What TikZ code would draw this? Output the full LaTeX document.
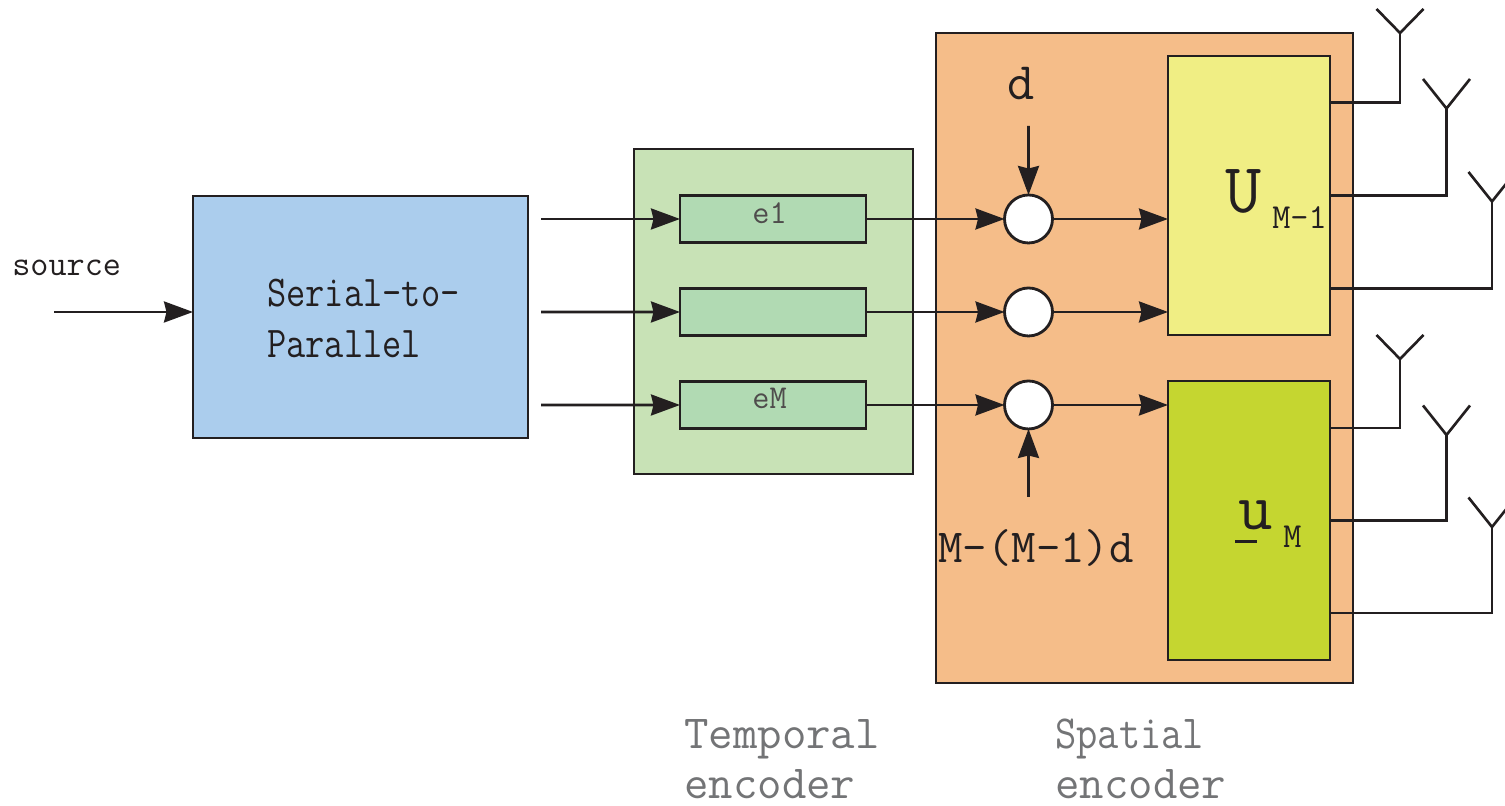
\documentclass[tikz,border=0pt]{standalone}
\usepackage{fontspec}
\usepackage{tikz}
\usetikzlibrary{arrows.meta}
\usetikzlibrary{positioning}
\definecolor{Ink}{RGB}{35,31,32}
\definecolor{Label}{RGB}{115,116,118}
\definecolor{Blue-1}{RGB}{171,205,237}
\definecolor{Green-1}{RGB}{200,226,182}
\definecolor{Green-2}{RGB}{177,218,179}
\definecolor{Orange-1}{RGB}{245,189,137}
\definecolor{Yellow-1}{RGB}{240,238,132}
\definecolor{Lime-1}{RGB}{197,214,48}
\newcommand{\fs}[1]{\ttfamily\fontsize{#1}{#1}\selectfont}
\newcommand{\shortbar}{\makebox[0pt][l]{\hspace{-0.05em}\raisebox{-0.2em}{\rule{0.33em}{0.045em}}}}

\begin{document}
\begin{tikzpicture}
    \tikzset{ box/.style  ={draw=Ink, line width=1.6pt, inner sep=0pt, outer sep=0pt} }
    \tikzset{ tsk/.style  ={box, fill=Green-2, minimum width=3.72cm, minimum height=0.93cm} }
    \tikzset{ add/.style  ={box, fill=white, circle, minimum size=0.96cm} }
    \tikzset{ mtx/.style  ={box, minimum width=3.24cm, minimum height=5.58cm} }
    \tikzset{ txt/.style  ={text=Ink, inner sep=0pt, anchor=base west} }
    \tikzset{ ttl/.style  ={text=Label, inner sep=0pt, anchor=base west, font=\fs{27}} }
    \tikzset{ wire/.style ={draw=Ink, line width=1.5pt} }
    \tikzset{ arw/.style  ={wire, -{Stealth[length=0.58cm, width=0.42cm, inset=0.05cm]}} }

    \useasboundingbox (0,0) rectangle (30.1,16.12);

    \node[box, fill=Blue-1,   minimum width=6.70cm, minimum height=4.84cm ] (s2p) at ( 7.21, 9.78) {};
    \node[box, fill=Green-1,  minimum width=5.58cm, minimum height=6.50cm ] (tmp) at (15.47, 9.89) {};
    \node[box, fill=Orange-1, minimum width=8.34cm, minimum height=13.00cm] (spc) at (22.89, 8.96) {};

    \node[tsk                    ] (t1) at (15.46,11.74) {};
    \node[tsk, below=0.93cm of t1] (t2)                  {};
    \node[tsk, below=0.93cm of t2] (t3)                  {};

    \node[add, right=2.77cm of t1] (c1) {};
    \node[add, right=2.77cm of t2] (c2) {};
    \node[add, right=2.77cm of t3] (c3) {};

    \node[mtx, fill=Yellow-1] (u1) at (24.98,12.21) {};
    \node[mtx, fill=Lime-1  ] (u2) at (24.98, 5.71) {};

    % labels
    \node[txt, font=\fs{20}] (src)  at ( 0.24,10.60) {source};
    \node[txt, font=\fs{25}, xscale=0.85] (sl1) at ( 5.34, 9.98) {Serial-to-};
    \node[txt, font=\fs{25}, xscale=0.85] (sl2) at ( 5.34, 8.96) {Parallel};
    \node[txt, font=\fs{19}, text=Ink!80] (e1l) at (15.04,11.64) {e1};
    \node[txt, font=\fs{19}, text=Ink!80] (eml) at (15.04, 7.94) {eM};
    \node[txt, font=\fs{30}] (dl)   at (20.14,14.12) {d};
    \node[txt, font=\fs{27}] (ml)   at (18.76, 4.86) {M-(M-1)d};
    \node[txt, font=\fs{40}] (ul)   at (24.50,11.86) {U};
    \node[txt, font=\fs{20}] (uls)  at (25.44,11.54) {M-1};
    \node[txt, font=\fs{38}] (vl)   at (24.76, 5.52) {\shortbar u};
    \node[txt, font=\fs{20}] (vls)  at (25.66, 5.16) {M};
    \node[ttl] (cp1) at (13.68, 1.14) {Temporal};
    \node[ttl] (cp2) at (13.68, 0.14) {encoder};
    \node[ttl, xscale=0.87] (cp3) at (21.10, 1.14) {Spatial};
    \node[ttl] (cp4) at (21.10, 0.14) {encoder};

    % free ends
    \coordinate (in) at ( 1.08, 9.88);
    \coordinate (o1) at (10.82,11.74);
    \coordinate (o2) at (10.82, 9.88);
    \coordinate (o3) at (10.82, 8.02);
    \coordinate (dt) at (20.57,13.60);
    \coordinate (mt) at (20.57, 6.18);

    \draw[arw] (in) -- (in -| s2p.west);
    \draw[arw] (o1) -- (t1);
    \draw[arw] (o2) -- (t2);
    \draw[arw] (o3) -- (t3);
    \draw[arw] (t1) -- (c1);
    \draw[arw] (t2) -- (c2);
    \draw[arw] (t3) -- (c3);
    \draw[arw] (c1) -- (c1 -| u1.west);
    \draw[arw] (c2) -- (c2 -| u1.west);
    \draw[arw] (c3) -- (c3 -| u2.west);
    \draw[arw] (dt) -- (c1);
    \draw[arw] (mt) -- (c3);

    % antennas
    \coordinate (a1) at (28.00,15.46);
    \coordinate (a2) at (28.93,13.95);
    \coordinate (a3) at (29.84,12.09);
    \coordinate (a4) at (28.00, 8.94);
    \coordinate (a5) at (28.93, 7.42);
    \coordinate (a6) at (29.84, 5.58);

    \draw[wire] ([yshift=+1.86cm]u1.east) -| (a1);
    \draw[wire] (u1.east)                 -| (a2);
    \draw[wire] ([yshift=-1.86cm]u1.east) -| (a3);
    \draw[wire] ([yshift=+1.85cm]u2.east) -| (a4);
    \draw[wire] (u2.east)                 -| (a5);
    \draw[wire] ([yshift=-1.85cm]u2.east) -| (a6);

    \draw[wire] (a1) -- ++(-0.47,0.48) (a1) -- ++(0.47,0.48);
    \draw[wire] (a2) -- ++(-0.47,0.59) (a2) -- ++(0.47,0.59);
    \draw[wire] (a3) -- ++(-0.47,0.59) (a3) -- ++(0.47,0.59);
    \draw[wire] (a4) -- ++(-0.47,0.48) (a4) -- ++(0.47,0.48);
    \draw[wire] (a5) -- ++(-0.47,0.59) (a5) -- ++(0.47,0.59);
    \draw[wire] (a6) -- ++(-0.47,0.59) (a6) -- ++(0.47,0.59);
\end{tikzpicture}
\end{document}
